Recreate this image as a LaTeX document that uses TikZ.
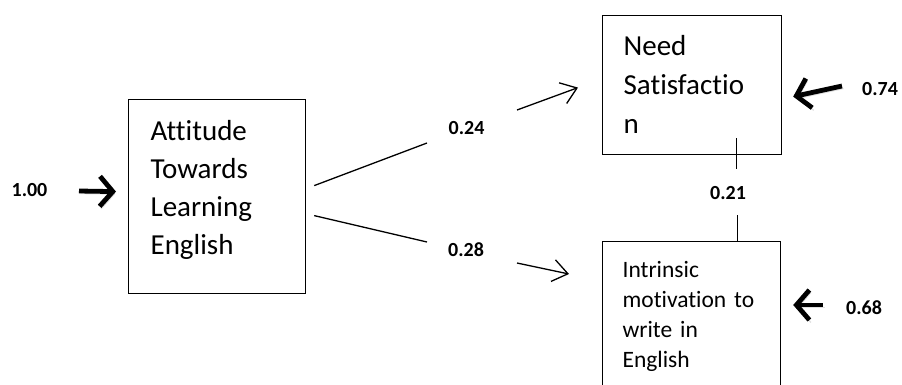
\documentclass[tikz,border=0pt]{standalone}
\usepackage{fontspec}
\setmainfont{Carlito}[Ligatures=NoCommon]
\usepackage{tikz}
\usetikzlibrary{arrows.meta}

\begin{document}
\begin{tikzpicture}[
      x=1pt, y=-1pt, line width=1.3pt,
      factor/.style={rectangle, draw, line width=1.2pt, anchor=north west, align=left, inner ysep=0pt},
      weight/.style={font=\bfseries\fontsize{20}{24}\selectfont, inner sep=0pt},
      effect/.style={-{Straight Barb[length=15pt, width=22pt]}},
      residual/.style={line width=4.8pt, -{Straight Barb[length=13pt, width=30pt]},
        preaction={draw=black!12, transform canvas={shift={(1.5pt,-2.5pt)}}}}]

      \clip (0,0) rectangle (902,384);

      % Nodes
      \node[factor, font=\fontsize{29}{38}\selectfont, inner xsep=22pt, text width=133pt,
            text height=41pt, text depth=153pt] (att) at (128,99) {Attitude\\Towards\\Learning\\English};
      \node[factor, font=\fontsize{29}{39}\selectfont, inner xsep=21pt, text width=137pt,
            text height=40pt, text depth=99pt] (need) at (602,15) {Need\\Satisfactio\\n};
      \node[factor, font=\fontsize{23.5}{30}\selectfont, inner xsep=20pt, text width=138pt,
            text height=36pt, text depth=151pt] (intr) at (602,241) {Intrinsic\\motivation to\\write in\\English};

      % Weights
      \node[weight] (l100) at (29.5,190) {1.00};
      \node[weight] (l24) at (466.5,128) {0.24};
      \node[weight] (l28) at (466,250) {0.28};
      \node[weight] (l21) at (728,193) {0.21};
      \node[weight] (l74) at (880,89) {0.74};
      \node[weight] (l68) at (864,308) {0.68};

      % Edges
      \draw ([shift={(8,-11)}]att.east) -- ([shift={(-39.5,15)}]l24.center);
      \draw[effect] ([shift={(50.5,-18)}]l24.center) -- ([shift={(-24,2.5)}]need.west);
      \draw ([shift={(8,19)}]att.east) -- ([shift={(-39,-8)}]l28.center);
      \draw[effect] ([shift={(51,13)}]l28.center) -- ([shift={(-33,33)}]intr.north west);
      \draw ([shift={(44.5,-17)}]need.south) -- ([shift={(44.5,14)}]need.south);
      \draw ([shift={(-44,-26)}]intr.north east) -- ([shift={(-44,0)}]intr.north east);

      %Residuals
      \draw[residual] ([shift={(49.5,1)}]l100.center) -- ([shift={(-12,-5)}]att.west);
      \draw[residual] ([shift={(-38,-3)}]l74.center) -- ([shift={(11,11.5)}]need.east);
      \draw[residual] ([shift={(-41,-3)}]l68.center) -- ([shift={(12,64)}]intr.north east);

\end{tikzpicture}
\end{document}
